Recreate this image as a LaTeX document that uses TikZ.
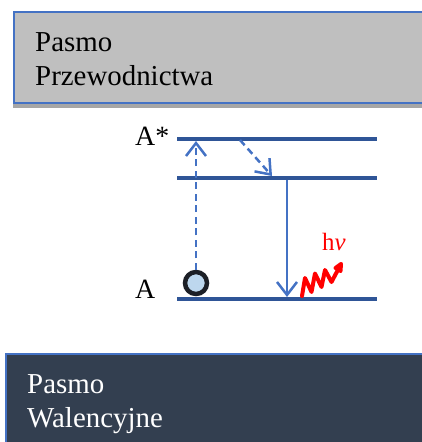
\documentclass[tikz,border=0pt]{standalone}
\usepackage{fontspec}
\setmainfont{Liberation Serif}
\usetikzlibrary{arrows.meta}
\definecolor{boxgray}{HTML}{BFBFBF}
\definecolor{boxblue}{HTML}{4472C4}
\definecolor{shadowgray}{HTML}{A6A6A6}
\definecolor{navy}{HTML}{333F50}
\definecolor{levelblue}{HTML}{2F5597}
\definecolor{arrowblue}{HTML}{4472C4}
\definecolor{elfill}{HTML}{BDD7EE}
\definecolor{elring}{HTML}{1C1F26}
\tikzset{
  levelline/.style={draw=levelblue, line width=4bp},
  trans/.style={draw=arrowblue, line width=2.5bp, -{Straight Barb[length=13bp,width=20bp,line width=2.5bp]}},
  dashtrans/.style={trans, dash pattern=on 7bp off 4.5bp},
  bandtext/.style={anchor=base west, inner sep=0pt, font=\fontsize{29}{34}\selectfont},
  lvltext/.style={anchor=base west, inner sep=0pt, font=\fontsize{28}{33}\selectfont},
}
\begin{document}
\begin{tikzpicture}[x=1bp,y=-1bp]
\useasboundingbox (0,0) rectangle (421,442);
% conduction band
\fill[shadowgray] (13,16) rectangle (430,108);
\draw[boxblue, line width=2bp, fill=boxgray] (14,12) rectangle (430,103);
\node[bandtext] (cb1) at (35,52) {Pasmo};
\node[bandtext] (cb2) at (35,86) {Przewodnictwa};
% valence band
\draw[boxblue, line width=2bp, fill=navy] (6,354) rectangle (430,450);
\node[bandtext, text=white] (vb1) at (27,393) {Pasmo};
\node[bandtext, text=white] (vb2) at (27,427) {Walencyjne};
% levels
\coordinate (L1a) at (177,139); \coordinate (L1b) at (377,139);
\coordinate (L2a) at (177,178); \coordinate (L2b) at (377,178);
\coordinate (L3a) at (177,299); \coordinate (L3b) at (377,299);
\draw[levelline] (L1a) -- (L1b);
\draw[levelline] (L2a) -- (L2b);
\draw[levelline] (L3a) -- (L3b);
\node[lvltext] (Astar) at (135,146) {A*};
\node[lvltext] (A) at (135,298) {A};
% electron
\node[circle, draw=elring, fill=elfill, line width=4.5bp, minimum size=22bp, inner sep=0pt] (el) at (196,283) {};
% transitions
\coordinate (exc) at (196,141);
\draw[dashtrans] (el.north) -- (exc);
\coordinate (rs) at (240,140);
\coordinate (re) at (272,176);
\draw[dashtrans] (rs) -- (re);
\coordinate (es) at (287,180);
\coordinate (ee) at (287,297);
\draw[trans] (es) -- (ee);
% photon
\draw[red, line width=4bp, line join=round, line cap=round]
  (302,296) -- (305,278) -- (311.5,292) -- (315,273.5) -- (321.5,287) -- (325,270) -- (331.5,282) -- (341,264)
  -- (335.5,268) (341,264) -- (340.5,271);
\node[anchor=base west, inner sep=0pt, text=red, font=\fontsize{25}{30}\selectfont] (hv) at (322,250) {h\textit{ν}};
\end{tikzpicture}
\end{document}
